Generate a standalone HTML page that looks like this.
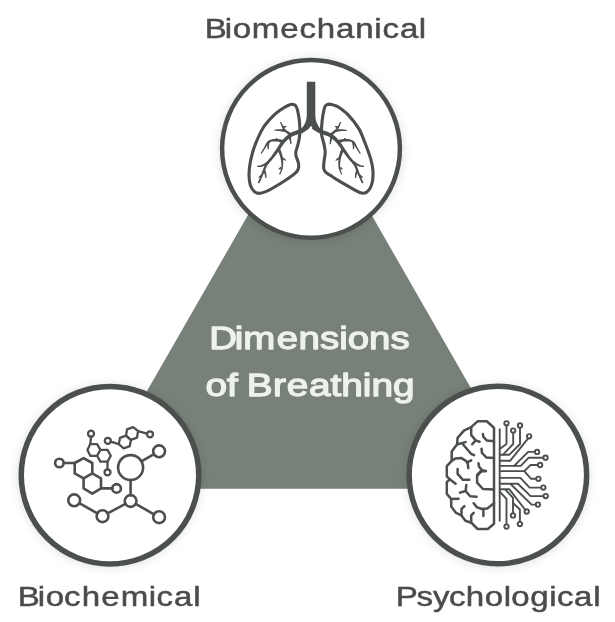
<!DOCTYPE html>
<html lang="en">
<head>
<meta charset="utf-8">
<title>Dimensions of Breathing</title>
<style>
  html, body { margin: 0; padding: 0; background: #ffffff; }
  body { width: 615px; height: 622px; overflow: hidden; position: relative; }
  svg { display: block; position: absolute; left: 0; top: 0; }
  text { font-family: "Liberation Sans", sans-serif; }
  .txt { opacity: 0.999; }
  .label { font-size: 28px; fill: #4a4c4a; stroke: #4a4c4a; stroke-width: 0.5px; stroke-linejoin: round; }
  .title { font-size: 32px; fill: #eef2ec; stroke: #eef2ec; stroke-width: 1.3px; stroke-linejoin: round; }
  .ring { fill: #ffffff; stroke: #4b504d; }
  .ico { fill: none; stroke: #4b504d; stroke-linecap: round; stroke-linejoin: round; }
</style>
</head>
<body>
<svg width="615" height="622" viewBox="0 0 615 622">
  <defs>
    <filter id="sh" x="-20%" y="-20%" width="140%" height="140%">
      <feGaussianBlur stdDeviation="5"/>
    </filter>
  </defs>

  <!-- central triangle -->
  <polygon points="309.8,107.3 90.9,488.8 528.7,488.8" fill="#778179"/>

  <!-- soft shadows behind the rings -->
  <g filter="url(#sh)" fill="#000" opacity="0.11">
    <circle cx="311.1" cy="149.5" r="92"/>
    <circle cx="109.7" cy="476" r="92"/>
    <circle cx="497.8" cy="476" r="92"/>
  </g>

  <!-- rings -->
  <circle class="ring" cx="311" cy="148.85" r="88.9" stroke-width="4.5"/>
  <circle class="ring" cx="110" cy="475.2" r="88.75" stroke-width="5.5"/>
  <circle class="ring" cx="497.9" cy="475" r="88.75" stroke-width="5.5"/>

  <!-- icon: lungs -->
  <g class="ico">
    <path stroke-width="3.1" d="M294.2 104.8 C293.3 104.4 292.3 103.9 290.5 104.4 C288.8 104.9 286.6 106 283.8 107.8 C281 109.6 277 112.2 273.7 115.4 C270.3 118.6 266.6 122.5 263.5 127.2 C260.5 132 257.6 138.5 255.5 143.9 C253.3 149.3 251.8 154.7 250.7 159.8 C249.7 164.8 249.1 170.1 249 174.3 C249 178.4 249.4 181.9 250.2 184.7 C251.1 187.6 252.5 189.9 254.1 191.3 C255.7 192.7 257.3 193.6 259.8 193.3 C262.4 193.1 265.4 191.8 269.5 189.8 C273.5 187.7 279.9 183.8 284 181.2 C288 178.6 291.7 175.9 293.9 174.3 C296.1 172.6 296.3 172.3 297.1 171.2 C297.9 170.1 298.4 169 298.6 167.5 C298.8 166.1 298.7 164.4 298.3 162.5 C297.9 160.5 296.5 157.9 296.1 156 C295.7 154.2 295.6 153.5 295.9 151.5 C296.3 149.5 297.5 146.9 298.1 143.9 C298.8 141 299.6 137.7 299.8 133.8 C300 129.9 299.7 124.2 299.3 120.3 C298.9 116.4 298.1 112.8 297.6 110.5 C297.1 108.2 296.7 107.4 296.1 106.5 C295.5 105.5 295.2 105.1 294.2 104.8Z"/>
    <path stroke-width="3.1" d="M325.6 105.5 C326.5 104.3 328.1 104.2 329.5 104.1 C330.8 104.1 332.1 104.6 333.7 105.1 C335.2 105.7 336.2 105.6 338.7 107.3 C341.3 109.1 345.5 112 348.8 115.6 C352.2 119.2 356.2 124.2 359 128.9 C361.7 133.6 363.4 138.9 365.4 143.9 C367.3 148.9 369.5 154.6 370.8 159.1 C372 163.6 372.7 167.2 373 170.9 C373.2 174.5 372.9 178.2 372.5 181 C372 183.8 371.4 185.9 370.4 187.7 C369.5 189.6 368.2 191.2 366.7 192.1 C365.3 193 363.9 193.6 361.8 193.1 C359.7 192.7 357.8 191.6 354.1 189.6 C350.3 187.6 343.4 183.6 339.4 181.2 C335.4 178.8 332.6 176.8 330.3 175.3 C328 173.8 326.8 173.4 325.7 172.2 C324.6 171.1 324 170.4 323.7 168.5 C323.4 166.6 323.8 163.5 324.1 160.8 C324.3 158.1 325.3 155.1 325.2 152.3 C325.2 149.5 324.5 147 323.9 143.9 C323.3 140.8 321.8 137.7 321.5 133.8 C321.2 129.9 321.8 124.1 322.2 120.3 C322.6 116.5 323.2 113.5 323.7 111 C324.3 108.5 324.6 106.6 325.6 105.5Z"/>
    <path d="M306.8 81.8 L315.3 81.8 L315.3 115.8 Q315.5 124.2 321.6 129.9 L320 133.6 Q312.2 128.2 311 125.7 Q309.8 128.2 301.7 133.6 L300.4 129.9 Q306.4 124.2 306.8 115.8 Z" fill="#4b504d" stroke="none"/>
    <path d="M306.5 124.8 L305.5 125.4 L304.3 126.3 L302.8 127.3 L301.2 128.3 L299.7 129.2 L298.1 129.9 L296.3 130.6 L294.4 131.3 L292.3 132.1 L290.4 133.1 L288.7 134.2 L287.1 135.4 L285.5 136.7 L284.1 138.2 L282.6 139.7 L281.3 141.4 L280 143.3 L278.8 145.2 L277.7 147 L276.6 148.7 L275.4 150.4 L274.3 152.1 L273.1 153.8 L272 155.4 L270.9 156.9 L269.8 158.3 L268.6 159.6 L267.5 160.9 L266.4 162.3 L265.4 163.8 L264.6 165.4 L264 166.9 L263.4 168.5 L262.9 170.1 L262.2 171.8 L261.3 174 L260.3 176.5 L259.3 179 L258.4 181.2 L257.7 182.7 L259.3 183.4 L260 181.9 L261 179.7 L262.1 177.2 L263.2 174.8 L264.2 172.6 L264.9 170.9 L265.6 169.3 L266.1 167.8 L266.7 166.4 L267.5 165.1 L268.4 163.8 L269.4 162.6 L270.6 161.4 L271.8 160 L273.1 158.6 L274.3 157.1 L275.5 155.5 L276.7 153.9 L277.9 152.2 L279.2 150.5 L280.4 148.8 L281.6 146.9 L282.8 145.2 L284 143.5 L285.3 142 L286.6 140.7 L288 139.5 L289.4 138.4 L290.8 137.4 L292.3 136.5 L293.9 135.7 L295.8 135.1 L297.7 134.5 L299.7 133.8 L301.6 133 L303.4 132.1 L305.2 131 L306.8 130.1 L308.1 129.2 L309 128.6Z" fill="#4b504d" stroke="none"/>
    <path d="M291.7 133.6 L290.8 133 L289.4 132.1 L287.9 131.2 L286.4 130.2 L285.4 129.3 L284.7 128.7 L284.3 128 L283.9 127.4 L283.6 126.6 L283.2 125.8 L282.7 125 L282.1 124 L281.6 123.1 L281.2 122.3 L280.9 121.7 L279.9 122.2 L280.2 122.8 L280.5 123.6 L280.9 124.6 L281.3 125.6 L281.7 126.5 L282 127.3 L282.3 128.1 L282.6 128.9 L283.1 129.8 L283.9 130.8 L285 131.9 L286.4 133.1 L287.9 134.3 L289.2 135.3 L290 136Z" fill="#4b504d" stroke="none"/>
    <path d="M285.3 129.5 L284.5 129.4 L283.4 129.3 L282.2 129.3 L280.8 129.2 L279.6 129.2 L278.5 129.2 L277.3 129.3 L276.1 129.4 L275.2 129.5 L274.5 129.5 L274.5 130.6 L275.2 130.7 L276.2 130.7 L277.3 130.8 L278.4 130.9 L279.5 131 L280.6 131.2 L281.9 131.4 L283.1 131.7 L284.2 131.9 L285 132Z" fill="#4b504d" stroke="none"/>
    <path d="M283.5 128.5 L283.9 128.2 L284.6 127.9 L285.3 127.5 L286 127.1 L286.5 126.9 L286.1 125.8 L285.6 125.9 L284.9 126 L284 126.1 L283.3 126.2 L282.8 126.3Z" fill="#4b504d" stroke="none"/>
    <path d="M283.8 140.1 L282.8 139.9 L281.4 139.6 L279.7 139.3 L277.9 139 L276.2 138.9 L274.7 139 L273.1 139.1 L271.4 139.4 L269.8 139.9 L268.3 140.7 L267.1 142 L266 143.6 L265.1 145.2 L264.3 146.9 L263.6 148.2 L262.8 149.5 L262.1 150.7 L261.5 151.8 L260.9 152.7 L260.6 153.4 L261.5 154 L261.9 153.3 L262.5 152.4 L263.2 151.4 L264 150.2 L264.9 149 L265.7 147.6 L266.6 146.1 L267.6 144.6 L268.6 143.3 L269.5 142.4 L270.6 141.9 L271.9 141.6 L273.3 141.4 L274.7 141.4 L276.2 141.5 L277.6 141.6 L279.2 141.9 L280.7 142.4 L282.1 142.7 L283.1 143Z" fill="#4b504d" stroke="none"/>
    <path d="M267.4 141.7 L267.4 142.2 L267.3 142.9 L267.3 143.8 L267.2 144.7 L267.2 145.6 L267.3 146.4 L267.4 147.3 L267.5 148.1 L267.6 148.8 L267.7 149.3 L268.8 149.3 L268.8 148.8 L268.8 148 L268.9 147.2 L268.9 146.4 L269 145.6 L269.1 144.9 L269.3 144.1 L269.5 143.3 L269.7 142.6 L269.8 142.1Z" fill="#4b504d" stroke="none"/>
    <path d="M276.2 140.9 L276.4 140.5 L276.7 140 L277 139.4 L277.3 138.9 L277.5 138.5 L276.6 137.8 L276.3 138.1 L275.8 138.4 L275.3 138.9 L274.8 139.2 L274.5 139.5Z" fill="#4b504d" stroke="none"/>
    <path d="M288.3 136.8 L288.5 137.4 L288.8 138.2 L289.1 139.2 L289.5 140.2 L289.7 141 L289.9 141.7 L290 142.4 L290.2 143 L290.2 143.6 L290.3 144 L291.4 143.9 L291.4 143.5 L291.4 142.9 L291.4 142.3 L291.4 141.5 L291.4 140.7 L291.2 139.8 L291.1 138.8 L291 137.7 L290.8 136.8 L290.7 136.2Z" fill="#4b504d" stroke="none"/>
    <path d="M277.3 149.5 L277.8 150.7 L278.6 152.5 L279.4 154.5 L280.1 156.6 L280.6 158.5 L281 160.3 L281.2 162.1 L281.4 164 L281.4 165.7 L281.3 167.4 L281 169 L280.5 170.6 L280 172.1 L279.4 173.4 L279.1 174.4 L280.1 174.8 L280.5 173.9 L281.1 172.6 L281.8 171.1 L282.5 169.4 L282.9 167.6 L283.1 165.8 L283.2 164 L283.2 162 L283.1 160 L282.9 158 L282.5 155.9 L281.8 153.7 L281.2 151.5 L280.5 149.7 L280.1 148.5Z" fill="#4b504d" stroke="none"/>
    <path d="M280.9 158.7 L281.6 159.1 L282.7 159.6 L283.8 160.1 L284.8 160.6 L285.5 160.9 L286.1 160 L285.5 159.5 L284.7 158.7 L283.7 157.9 L282.8 157.2 L282.2 156.7Z" fill="#4b504d" stroke="none"/>
    <path d="M280.7 166.6 L280.3 167 L279.8 167.4 L279.3 168 L278.8 168.4 L278.4 168.7 L279 169.7 L279.5 169.5 L280.1 169.2 L280.8 168.9 L281.4 168.6 L281.8 168.4Z" fill="#4b504d" stroke="none"/>
    <path d="M267.9 160.9 L267.1 161.5 L266 162.3 L264.8 163.2 L263.5 164 L262.4 164.6 L261.3 165 L260.1 165.4 L258.9 165.6 L257.8 165.8 L257.1 166 L257.2 167 L258 167 L259 167 L260.3 166.9 L261.7 166.7 L263 166.4 L264.4 165.8 L265.9 165.1 L267.3 164.4 L268.5 163.7 L269.3 163.3Z" fill="#4b504d" stroke="none"/>
    <path d="M262.7 170.5 L263 171.1 L263.5 171.9 L264 172.8 L264.4 173.7 L264.7 174.5 L264.9 175.2 L265.1 176 L265.2 176.8 L265.3 177.5 L265.4 178 L266.5 177.9 L266.5 177.4 L266.5 176.7 L266.5 175.9 L266.5 175 L266.4 174 L266.2 173.1 L265.9 172 L265.5 171 L265.2 170.1 L265 169.5Z" fill="#4b504d" stroke="none"/>
    <path d="M261.2 174.4 L260.8 174.8 L260.2 175.4 L259.5 176.1 L258.9 176.8 L258.5 177.2 L259.2 178.1 L259.7 177.8 L260.4 177.4 L261.3 176.9 L262.1 176.5 L262.6 176.2Z" fill="#4b504d" stroke="none"/>
    <path d="M311.8 128.6 L312.8 129.2 L314.2 130.2 L315.8 131.2 L317.7 132.3 L319.6 133.3 L321.5 134.2 L323.6 134.8 L325.6 135.4 L327.4 136.1 L329 136.8 L330.5 137.7 L332 138.8 L333.4 139.9 L334.8 141.1 L336.1 142.4 L337.3 143.8 L338.5 145.4 L339.7 147.1 L340.9 148.8 L342.2 150.5 L343.4 152.2 L344.5 153.8 L345.7 155.4 L346.9 157 L348.1 158.6 L349.3 160 L350.6 161.4 L351.7 162.6 L352.8 163.8 L353.7 165.1 L354.4 166.4 L355 167.8 L355.6 169.3 L356.2 170.9 L357 172.6 L357.9 174.8 L359.1 177.2 L360.2 179.7 L361.2 181.9 L361.9 183.4 L363.5 182.7 L362.8 181.2 L361.9 179 L360.9 176.5 L359.8 174 L358.9 171.8 L358.3 170.1 L357.7 168.5 L357.2 166.9 L356.6 165.4 L355.8 163.8 L354.8 162.3 L353.7 160.9 L352.5 159.6 L351.4 158.3 L350.3 156.9 L349.2 155.4 L348.1 153.8 L347 152.1 L345.9 150.4 L344.7 148.7 L343.6 147 L342.5 145.3 L341.3 143.4 L340 141.7 L338.7 140 L337.3 138.5 L335.8 137.1 L334.3 135.8 L332.7 134.6 L330.9 133.4 L329 132.4 L326.9 131.6 L324.9 130.9 L323.1 130.2 L321.5 129.5 L319.9 128.6 L318.2 127.5 L316.7 126.4 L315.4 125.5 L314.4 124.8Z" fill="#4b504d" stroke="none"/>
    <path d="M331.2 136.3 L332 135.5 L333.2 134.4 L334.6 133.2 L335.9 131.9 L336.9 130.8 L337.7 129.8 L338.3 129 L338.7 128.2 L339.1 127.4 L339.4 126.6 L339.9 125.6 L340.3 124.6 L340.7 123.6 L341 122.8 L341.2 122.2 L340.3 121.8 L340 122.3 L339.5 123.1 L339 124 L338.5 125 L338 125.8 L337.6 126.6 L337.1 127.3 L336.7 127.9 L336.2 128.6 L335.4 129.4 L334.4 130.3 L333 131.3 L331.6 132.4 L330.3 133.4 L329.4 134Z" fill="#4b504d" stroke="none"/>
    <path d="M335.9 132 L336.6 131.9 L337.7 131.6 L338.9 131.4 L340.2 131.2 L341.3 131 L342.4 130.9 L343.6 130.9 L344.8 130.9 L345.9 130.9 L346.6 131 L346.7 129.9 L346 129.8 L344.9 129.6 L343.7 129.4 L342.5 129.2 L341.2 129.2 L340 129.2 L338.6 129.2 L337.4 129.3 L336.3 129.4 L335.5 129.5Z" fill="#4b504d" stroke="none"/>
    <path d="M338.4 126.3 L337.9 126.2 L337.2 126.1 L336.4 126 L335.7 125.9 L335.2 125.8 L334.8 126.9 L335.3 127.1 L335.9 127.5 L336.6 127.9 L337.3 128.2 L337.7 128.5Z" fill="#4b504d" stroke="none"/>
    <path d="M338.2 143 L339.2 142.7 L340.7 142.4 L342.4 141.9 L344 141.6 L345.5 141.4 L347 141.4 L348.4 141.4 L349.8 141.5 L351.1 141.8 L352.1 142.4 L353.1 143.2 L354 144.5 L354.9 146.1 L355.8 147.6 L356.6 149 L357.4 150.2 L358.2 151.4 L358.9 152.4 L359.4 153.3 L359.8 154 L360.8 153.4 L360.4 152.7 L359.9 151.8 L359.3 150.7 L358.6 149.5 L357.9 148.3 L357.2 146.9 L356.4 145.3 L355.6 143.6 L354.6 142 L353.3 140.7 L351.8 139.9 L350.3 139.4 L348.6 139.1 L347 139 L345.4 138.9 L343.7 139 L341.8 139.3 L340.1 139.6 L338.6 139.9 L337.6 140.1Z" fill="#4b504d" stroke="none"/>
    <path d="M351.9 142.1 L352 142.6 L352.2 143.3 L352.4 144.1 L352.6 144.9 L352.7 145.6 L352.8 146.4 L352.8 147.2 L352.8 148 L352.8 148.8 L352.8 149.3 L353.9 149.3 L354 148.8 L354.1 148.1 L354.3 147.3 L354.4 146.4 L354.4 145.6 L354.4 144.7 L354.4 143.8 L354.3 142.9 L354.3 142.2 L354.2 141.7Z" fill="#4b504d" stroke="none"/>
    <path d="M347 139.5 L346.7 139.2 L346.2 138.9 L345.7 138.4 L345.2 138.1 L344.9 137.8 L344 138.5 L344.2 138.9 L344.5 139.4 L344.8 140 L345.1 140.5 L345.3 140.9Z" fill="#4b504d" stroke="none"/>
    <path d="M330.4 136.2 L330.3 136.8 L330.2 137.7 L330 138.7 L329.9 139.8 L329.8 140.7 L329.7 141.6 L329.7 142.4 L329.7 143.1 L329.7 143.8 L329.7 144.2 L330.8 144.3 L330.9 143.8 L331 143.2 L331.1 142.5 L331.3 141.8 L331.5 141 L331.7 140.2 L332 139.2 L332.4 138.2 L332.7 137.4 L332.9 136.8Z" fill="#4b504d" stroke="none"/>
    <path d="M341.4 148.5 L341 149.7 L340.3 151.5 L339.7 153.7 L339 155.9 L338.6 158 L338.4 160 L338.3 162 L338.3 164 L338.4 165.8 L338.6 167.6 L339 169.4 L339.6 171.1 L340.3 172.6 L340.9 173.9 L341.3 174.8 L342.3 174.4 L341.9 173.4 L341.4 172.1 L340.9 170.6 L340.5 169 L340.2 167.4 L340.1 165.8 L340.2 164 L340.3 162.1 L340.5 160.3 L340.9 158.5 L341.4 156.6 L342.1 154.5 L342.9 152.5 L343.7 150.7 L344.2 149.5Z" fill="#4b504d" stroke="none"/>
    <path d="M339.3 156.7 L338.7 157.2 L337.8 157.9 L336.8 158.7 L336 159.5 L335.4 160 L336 160.9 L336.7 160.6 L337.7 160.1 L338.8 159.6 L339.9 159.1 L340.6 158.7Z" fill="#4b504d" stroke="none"/>
    <path d="M339.5 168.4 L339.9 168.6 L340.5 168.8 L341.1 169.2 L341.7 169.5 L342.1 169.6 L342.8 168.8 L342.4 168.4 L342 168 L341.5 167.4 L341 167 L340.7 166.7Z" fill="#4b504d" stroke="none"/>
    <path d="M352.2 163.3 L353.1 163.8 L354.3 164.4 L355.8 165.1 L357.3 165.8 L358.6 166.3 L359.9 166.7 L361.2 166.8 L362.3 166.9 L363.3 167 L363.9 167 L364.1 166 L363.4 165.8 L362.5 165.6 L361.4 165.4 L360.3 165.1 L359.3 164.6 L358.2 164 L356.9 163.2 L355.6 162.3 L354.4 161.5 L353.6 160.9Z" fill="#4b504d" stroke="none"/>
    <path d="M356.5 169.5 L356.3 170.1 L356 171 L355.6 172 L355.3 173.1 L355.1 174 L355 175 L355 175.9 L355 176.7 L355 177.4 L355 177.9 L356.1 178 L356.2 177.5 L356.3 176.8 L356.4 176 L356.6 175.2 L356.8 174.5 L357.1 173.7 L357.5 172.8 L358 171.9 L358.5 171.1 L358.8 170.5Z" fill="#4b504d" stroke="none"/>
    <path d="M358.9 176.2 L359.4 176.5 L360.2 176.9 L361.1 177.4 L361.8 177.8 L362.3 178.1 L363 177.2 L362.6 176.8 L362 176.1 L361.3 175.4 L360.7 174.8 L360.3 174.4Z" fill="#4b504d" stroke="none"/>
  </g>

  <!-- icon: molecules -->
  <g class="ico">
    <circle cx="130.6" cy="467.6" r="12.5" stroke-width="2.6"/>
    <circle cx="159.1" cy="451.3" r="5.9" stroke-width="2.6"/>
    <circle cx="130.6" cy="501" r="5.9" stroke-width="2.6"/>
    <circle cx="159.1" cy="517.2" r="5.9" stroke-width="2.6"/>
    <circle cx="102.5" cy="516.2" r="5.9" stroke-width="2.6"/>
    <circle cx="74.2" cy="500.3" r="5.9" stroke-width="2.6"/>
    <path stroke-width="2.6" d="M141.5 461.4 L154 454.2"/>
    <path stroke-width="2.6" d="M130.6 480.1 L130.6 495.1"/>
    <path stroke-width="2.6" d="M135.7 503.9 L154 514.3"/>
    <path stroke-width="2.6" d="M125.4 503.8 L107.7 513.4"/>
    <path stroke-width="2.6" d="M97.3 513.3 L79.3 503.2"/>
    <path stroke-width="2.6" d="M83.6 458.1 L92.3 463 L92.3 473.4 L83.6 478.4 L74.7 473.4 L74.7 463Z"/>
    <path stroke-width="2.6" d="M92.3 473.4 L101 478.4 L101 488.4 L92.3 493.6 L83.6 488.4 L83.6 478.4"/>
    <circle cx="59.4" cy="463" r="4.3" stroke-width="2.6"/>
    <circle cx="116.6" cy="488.4" r="4.3" stroke-width="2.6"/>
    <path stroke-width="2.6" d="M63.7 463 L74.7 463"/>
    <path stroke-width="2.6" d="M101 488.4 L112.3 488.4"/>
    <path stroke-width="2.3" d="M90.3 444.1 L97.1 444.1 L100.4 449.9 L97.1 455.8 L90.3 455.8 L87.4 449.9Z"/>
    <path stroke-width="2.3" d="M100.4 449.9 L107.5 449.9 L110.8 455.8 L107.5 461.6 L100.4 461.6 L97.1 455.8"/>
    <circle cx="91" cy="433.7" r="3" stroke-width="2.3"/>
    <circle cx="107.5" cy="472.3" r="3" stroke-width="2.3"/>
    <path stroke-width="2.3" d="M91 436.7 L90.3 444.1"/>
    <path stroke-width="2.3" d="M107.5 461.6 L107.5 469.3"/>
    <path stroke-width="2.3" d="M130.9 439.8 L129.8 446.1 L123.7 448.3 L118.8 444.1 L120 437.8 L126 435.6Z"/>
    <path stroke-width="2.3" d="M138.1 431.2 L137 437.6 L130.9 439.8 L126 435.6 L127.1 429.3 L133.2 427.1Z"/>
    <circle cx="107.8" cy="440.8" r="3" stroke-width="2.3"/>
    <circle cx="150" cy="434.3" r="3" stroke-width="2.3"/>
    <path stroke-width="2.3" d="M110.7 441.7 L118.8 444.1"/>
    <path stroke-width="2.3" d="M147 433.6 L138.1 431.2"/>
  </g>

  <!-- icon: brain / circuit -->
  <g class="ico">
    <path stroke-width="2.5" d="M494 427.7 L486.8 421.3 L477.6 421.3 L471.2 427.2 L463.9 430.6 L457.6 437.9 L457.1 444.3 L451.7 451.6 L451.7 460.9 L446.8 466.2 L446.8 475 L446.8 476.3 L449.8 479.3 L446.8 482.2 L446.8 493.9 L451.2 499 L451.2 506.6 L456.1 512.9 L461.5 515.4 L465.4 520.7 L471.2 522.7 L477.6 529 L487.8 529 L494 523.7Z"/>
    <path stroke-width="2.5" d="M471.2 427.2 L471.2 435 L475.6 440.4 L479.5 441.8"/>
    <path stroke-width="2.5" d="M475.6 440.4 L472.2 444.3"/>
    <path stroke-width="2.5" d="M482.9 434 L483.4 437 L486.8 440.4 L494 441.3"/>
    <path stroke-width="2.5" d="M457.6 444.3 L465.6 442.1"/>
    <path stroke-width="2.5" d="M462.9 444.3 L471 453.8 L474.1 455.2"/>
    <path stroke-width="2.5" d="M481.5 448.7 L482 453 L486.3 457.4 L494 457.9"/>
    <path stroke-width="2.5" d="M451.7 460.9 L455.6 458.4 L461 457.9 L465.9 460.9 L467.8 463.8 L468.3 468.2"/>
    <path stroke-width="2.5" d="M467.8 462 L471.2 460.4"/>
    <path stroke-width="2.5" d="M478.5 463.3 L479 466.7 L482 470.1 L485.9 471.1"/>
    <path stroke-width="2.5" d="M482 470.1 L478 475"/>
    <path stroke-width="2.5" d="M457.6 469 L457.6 473.9 L462.9 479.8 L469.3 479.8"/>
    <path stroke-width="2.5" d="M485.9 471 L480.5 471.5 L477.1 474.9 L477.1 482.7 L482.9 489 L494 489.5"/>
    <path stroke-width="2.5" d="M466.3 485.1 L465.6 491 L460 492.6"/>
    <path stroke-width="2.5" d="M465.6 491 L470.2 496.3 L476.6 496.8"/>
    <path stroke-width="2.5" d="M473.7 503.2 L476.6 507.1 L482 509 L487.3 508.5 L494 503.2"/>
    <path stroke-width="2.5" d="M483.4 509 L483.4 515.9"/>
    <path stroke-width="2.5" d="M449.8 479.3 L455.6 483.7"/>
    <path stroke-width="2.5" d="M451.2 499 L458.5 498.8"/>
    <path stroke-width="2.5" d="M461.5 515.4 L461.5 509 L464.4 506.1"/>
    <path stroke-width="2.5" d="M471.2 522.7 L471.2 515.4 L473.7 512.9"/>
    <path stroke-width="1.9" d="M499.7 429.1 L499.7 520.7"/>
    <circle cx="506.5" cy="423.3" r="2.2" stroke-width="1.9"/>
    <path stroke-width="1.9" d="M506.5 425.5 L506.5 444 L499.7 449.1"/>
    <circle cx="513.2" cy="430.6" r="2.2" stroke-width="1.9"/>
    <path stroke-width="1.9" d="M513.2 432.8 L513.2 444 L502.8 454.8"/>
    <circle cx="520" cy="425.5" r="2.2" stroke-width="1.9"/>
    <path stroke-width="1.9" d="M520 427.7 L520 444 L509.2 454.8 L499.7 454.8"/>
    <circle cx="529.1" cy="436.3" r="2.2" stroke-width="1.9"/>
    <path stroke-width="1.9" d="M528.1 438.2 L527.7 438.9 L510.3 460.7 L499.7 460.7"/>
    <circle cx="537.1" cy="451.9" r="2.2" stroke-width="1.9"/>
    <path stroke-width="1.9" d="M534.9 451.9 L528.2 451.9 L514.1 465.9"/>
    <circle cx="545.5" cy="457.7" r="2.2" stroke-width="1.9"/>
    <path stroke-width="1.9" d="M543.3 457.7 L528.7 457.7 L520.8 465.9 L499.7 465.9"/>
    <circle cx="540.1" cy="465" r="2.2" stroke-width="1.9"/>
    <path stroke-width="1.9" d="M537.9 465 L530.6 465 L524.3 471.1 L499.7 471.1"/>
    <circle cx="538.4" cy="478.8" r="2.2" stroke-width="1.9"/>
    <path stroke-width="1.9" d="M536.2 478.8 L531.1 478.8 L524.3 471.1"/>
    <circle cx="543.3" cy="487.6" r="2.2" stroke-width="1.9"/>
    <path stroke-width="1.9" d="M541.1 487.6 L529.6 487.6 L520.4 477.9 L499.7 477.9"/>
    <circle cx="545.7" cy="496.1" r="2.2" stroke-width="1.9"/>
    <path stroke-width="1.9" d="M543.5 496.1 L530.6 496.1 L517.9 483.8 L499.7 483.8"/>
    <circle cx="537.9" cy="504.6" r="2.2" stroke-width="1.9"/>
    <path stroke-width="1.9" d="M535.7 504.6 L531.6 504.6 L510.8 484.3"/>
    <circle cx="526.7" cy="511.5" r="2.2" stroke-width="1.9"/>
    <path stroke-width="1.9" d="M525.3 509.8 L525 509.5 L509.2 489.2 L499.7 489.2"/>
    <circle cx="513" cy="515.4" r="2.2" stroke-width="1.9"/>
    <path stroke-width="1.9" d="M513 513.2 L513 497.8 L505.8 490"/>
    <circle cx="519.9" cy="524.1" r="2.2" stroke-width="1.9"/>
    <path stroke-width="1.9" d="M519.9 521.9 L519.9 509.5 L513 503"/>
    <circle cx="506.5" cy="526.6" r="2.2" stroke-width="1.9"/>
    <path stroke-width="1.9" d="M506.5 524.4 L506.5 498.9 L499.7 491.7"/>
  </g>

  <g class="txt">
  <!-- labels -->
  <text class="label" transform="scale(1.18 1)" x="173.59 190.37 197.21 213.33 237.58 253.79 268.42 284.84 301.09 317.24 324.13 339.08 354.93" y="38">Biomechanical</text>
  <text class="label" transform="scale(1.18 1)" x="15.12 31.9 38.74 54.22 69.27 85.89 102.31 126.13 132.6 147.55 163.83" y="606">Biochemical</text>
  <text class="label" transform="scale(1.18 1)" x="335.46 353.03 366.89 380.57 394.69 410.86 426.97 433.32 449.31 465.54 472.01 486.53 502.82" y="606">Psychological</text>

  <!-- title -->
  <text class="title" transform="scale(1.2000 1)" x="174.34 195.7 202.72 230.55 248.84 266.64 282.64 289.75 307.55 325.34" y="349">Dimensions</text>
  <text class="title" transform="scale(1.2123 1)" x="169.43 187.22 196.12 203.52 225.11 236.59 254.8 272.6 281.49 299.29 306.4 324.19" y="396">of Breathing</text>
  </g>
</svg>
</body>
</html>
